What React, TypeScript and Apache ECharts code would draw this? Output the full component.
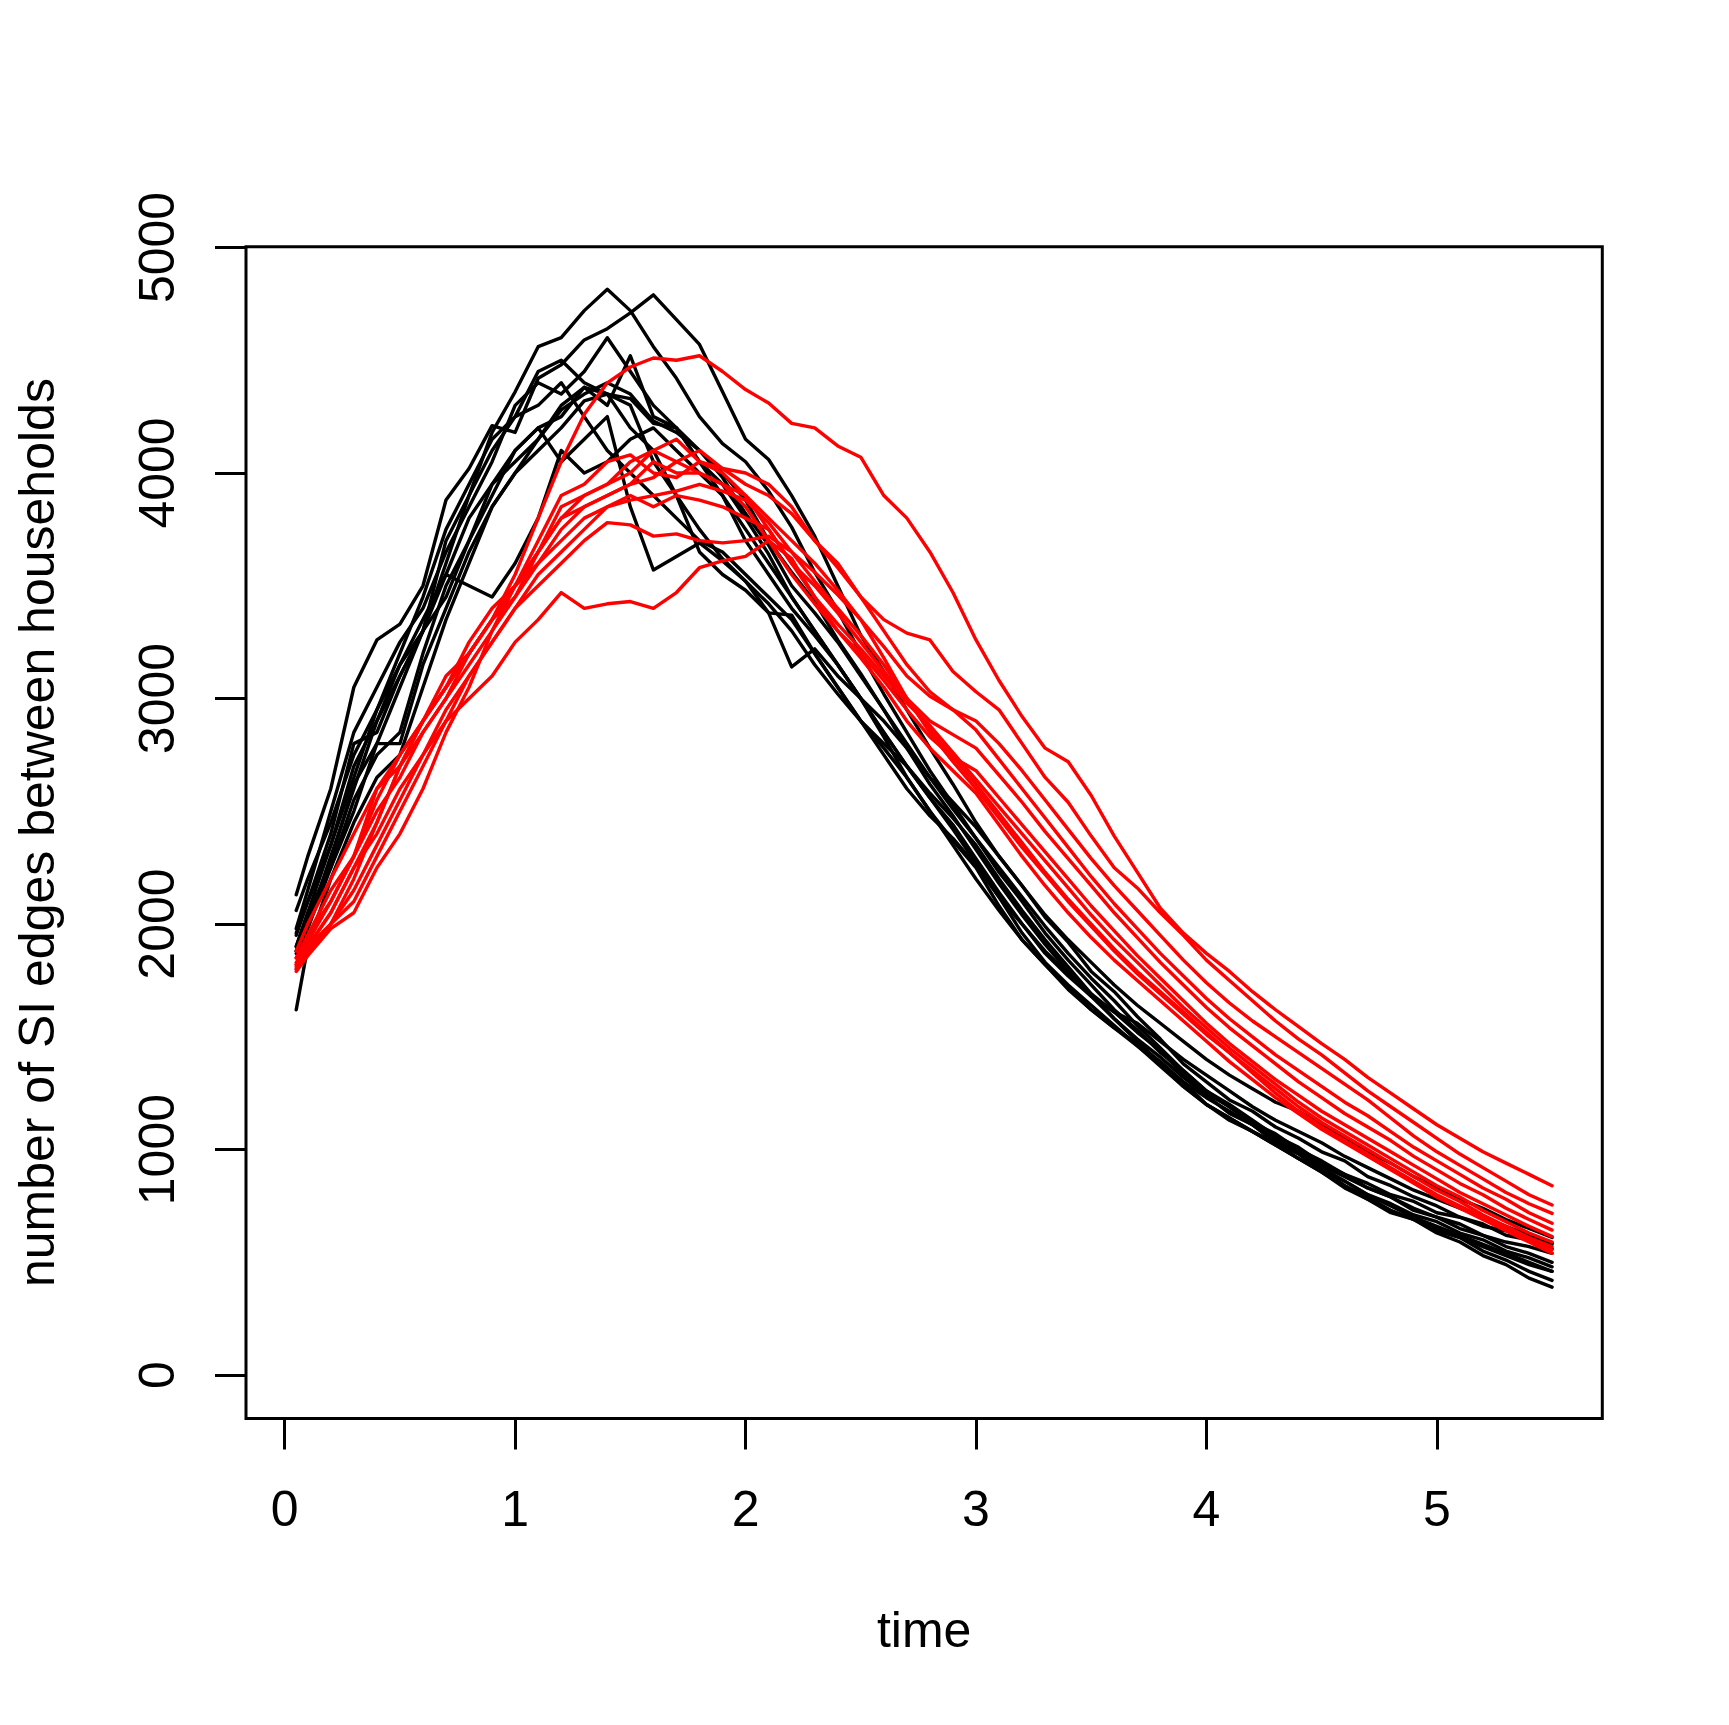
import React, { useEffect, useRef } from "react";
import * as echarts from "echarts";

// time grid (x values shared by every run)
const times = [
  0.05, 0.1, 0.2, 0.3, 0.4, 0.5, 0.6, 0.7, 0.8, 0.9,
  1.0, 1.1, 1.2, 1.3, 1.4, 1.5, 1.6, 1.7, 1.8, 1.9,
  2.0, 2.1, 2.2, 2.3, 2.4, 2.5, 2.6, 2.7, 2.8, 2.9,
  3.0, 3.1, 3.2, 3.3, 3.4, 3.5, 3.6, 3.7, 3.8, 3.9,
  4.0, 4.1, 4.2, 4.3, 4.4, 4.5, 4.6, 4.7, 4.8, 4.9,
  5.0, 5.1, 5.2, 5.3, 5.4, 5.5,
];

// black runs
const black1 = [2130, 2300, 2600, 3050, 3260, 3330, 3500, 3880, 4020, 4210, 4180, 4420, 4480, 4590, 4640, 4710, 4790, 4680, 4570, 4360, 4150, 4060, 3900, 3720, 3500, 3280, 3120, 2950, 2780, 2620, 2450, 2300, 2170, 2030, 1920, 1790, 1700, 1590, 1490, 1380, 1300, 1220, 1170, 1100, 1050, 990, 950, 880, 840, 790, 750, 700, 670, 620, 600, 560];
const black2 = [1960, 2100, 2350, 2700, 2900, 3100, 3300, 3700, 3900, 4180, 4360, 4560, 4600, 4720, 4815, 4720, 4560, 4420, 4250, 4130, 4050, 3920, 3760, 3560, 3390, 3200, 3020, 2850, 2680, 2530, 2380, 2230, 2100, 1960, 1840, 1730, 1620, 1530, 1430, 1350, 1260, 1200, 1130, 1060, 1010, 940, 890, 830, 790, 730, 700, 650, 620, 570, 540, 500];
const black3 = [1900, 2050, 2250, 2550, 2750, 2850, 3200, 3500, 3700, 3950, 4100, 4200, 4050, 4150, 4250, 3850, 3570, 3630, 3690, 3610, 3520, 3420, 3300, 3150, 3020, 2900, 2800, 2700, 2580, 2470, 2350, 2200, 2060, 1930, 1810, 1690, 1610, 1520, 1440, 1330, 1250, 1190, 1120, 1070, 1000, 950, 890, 850, 800, 770, 720, 700, 660, 640, 600, 580];
const black4 = [1880, 2000, 2300, 2600, 2900, 3150, 3350, 3550, 3800, 3950, 4050, 4150, 4300, 4380, 4300, 4520, 4250, 4200, 4050, 3950, 3800, 3640, 3450, 3300, 3150, 3000, 2850, 2700, 2560, 2440, 2290, 2140, 2000, 1870, 1770, 1680, 1580, 1490, 1410, 1320, 1240, 1160, 1110, 1030, 980, 910, 860, 800, 760, 710, 680, 630, 600, 550, 520, 480];
const black5 = [1870, 1980, 2250, 2500, 2800, 3050, 3300, 3450, 3700, 3900, 4100, 4200, 4250, 4380, 4350, 4300, 4050, 3900, 3750, 3620, 3520, 3380, 3140, 3220, 3100, 3000, 2900, 2780, 2650, 2540, 2430, 2300, 2170, 2040, 1930, 1830, 1730, 1640, 1560, 1480, 1400, 1330, 1270, 1210, 1170, 1110, 1050, 990, 940, 880, 830, 780, 740, 690, 650, 610];
const black6 = [1620, 1900, 2200, 2450, 2650, 2750, 3050, 3350, 3600, 3850, 4000, 4100, 4200, 4320, 4350, 4330, 4220, 4200, 4100, 4000, 3880, 3700, 3560, 3430, 3260, 3110, 2950, 2800, 2650, 2510, 2380, 2250, 2120, 1990, 1870, 1760, 1660, 1550, 1450, 1350, 1260, 1190, 1120, 1050, 990, 920, 860, 800, 750, 700, 660, 620, 580, 540, 500, 460];
const black7 = [1950, 2100, 2400, 2800, 2850, 3100, 3300, 3550, 3500, 3450, 3600, 3800, 4100, 4000, 4050, 4150, 4200, 4100, 4000, 3900, 3750, 3600, 3450, 3300, 3150, 3000, 2850, 2700, 2560, 2420, 2270, 2120, 1960, 1830, 1730, 1640, 1550, 1460, 1370, 1280, 1200, 1140, 1080, 1020, 960, 900, 830, 780, 720, 690, 640, 610, 550, 510, 460, 420];
const black8 = [2060, 2200, 2450, 2750, 2950, 3200, 3450, 3750, 3950, 4150, 4250, 4450, 4500, 4400, 4350, 4200, 4100, 3900, 3650, 3550, 3480, 3380, 3370, 3200, 3050, 2900, 2780, 2650, 2500, 2370, 2250, 2080, 1930, 1820, 1720, 1620, 1540, 1470, 1390, 1300, 1200, 1140, 1080, 1030, 960, 910, 840, 790, 730, 690, 630, 590, 530, 490, 430, 390];
const black9 = [1980, 2150, 2500, 2850, 3050, 3250, 3400, 3650, 3850, 4050, 4300, 4400, 4350, 4450, 4600, 4450, 4300, 4200, 4050, 3900, 3700, 3550, 3400, 3280, 3150, 3000, 2830, 2650, 2500, 2350, 2200, 2060, 1930, 1820, 1710, 1620, 1540, 1460, 1380, 1300, 1230, 1170, 1110, 1040, 990, 930, 880, 830, 790, 740, 700, 670, 620, 590, 570, 540];
const black10 = [1900, 2050, 2350, 2650, 2950, 3150, 3300, 3600, 3900, 4100, 4250, 4300, 4400, 4250, 4100, 4000, 3900, 3800, 3700, 3650, 3550, 3450, 3350, 3200, 3050, 2900, 2750, 2600, 2480, 2380, 2260, 2120, 2000, 1880, 1780, 1680, 1610, 1560, 1480, 1400, 1330, 1260, 1190, 1130, 1080, 1030, 970, 920, 870, 820, 780, 740, 700, 660, 620, 585];
const black11 = [1880, 2020, 2280, 2620, 2800, 2800, 3150, 3400, 3650, 3850, 4000, 4150, 4280, 4350, 4400, 4350, 4230, 4180, 4100, 3980, 3820, 3680, 3500, 3380, 3250, 3100, 2950, 2780, 2620, 2480, 2330, 2180, 2040, 1910, 1790, 1690, 1580, 1480, 1380, 1280, 1200, 1130, 1080, 1020, 960, 900, 840, 780, 730, 690, 650, 610, 570, 530, 490, 460];

// red runs
const red1 = [1820, 1950, 2150, 2300, 2600, 2700, 2900, 3050, 3200, 3350, 3550, 3800, 4050, 4260, 4400, 4470, 4510, 4500, 4520, 4450, 4370, 4310, 4220, 4200, 4120, 4070, 3900, 3800, 3650, 3470, 3260, 3080, 2920, 2780, 2720, 2570, 2390, 2230, 2070, 1960, 1870, 1790, 1700, 1620, 1545, 1470, 1400, 1320, 1250, 1180, 1110, 1050, 990, 940, 890, 840];
const red2 = [1830, 1900, 2050, 2250, 2400, 2600, 2750, 2900, 3000, 3100, 3250, 3350, 3470, 3400, 3420, 3430, 3400, 3470, 3580, 3610, 3630, 3700, 3620, 3450, 3300, 3200, 3080, 2950, 2830, 2740, 2680, 2560, 2440, 2320, 2200, 2080, 1970, 1860, 1760, 1660, 1560, 1470, 1390, 1310, 1240, 1170, 1110, 1050, 990, 930, 870, 810, 760, 710, 660, 614];
const red3 = [1800, 1880, 2000, 2150, 2350, 2550, 2750, 2950, 3100, 3250, 3400, 3500, 3600, 3700, 3780, 3770, 3720, 3730, 3700, 3690, 3700, 3720, 3650, 3560, 3460, 3350, 3230, 3100, 3010, 2950, 2900, 2800, 2680, 2550, 2420, 2290, 2170, 2060, 1950, 1840, 1740, 1650, 1570, 1500, 1430, 1360, 1290, 1220, 1140, 1060, 990, 930, 870, 810, 760, 717];
const red4 = [1850, 1950, 2100, 2300, 2550, 2750, 2900, 3050, 3250, 3400, 3500, 3650, 3800, 3900, 3950, 4000, 4100, 4150, 4050, 4020, 3950, 3900, 3820, 3700, 3600, 3450, 3300, 3150, 3030, 2950, 2860, 2730, 2600, 2470, 2340, 2210, 2090, 1980, 1870, 1770, 1670, 1580, 1500, 1420, 1350, 1280, 1210, 1150, 1080, 1010, 950, 890, 830, 780, 720, 673];
const red5 = [1800, 1900, 2000, 2200, 2450, 2700, 2850, 3000, 3200, 3350, 3450, 3650, 3850, 3900, 3950, 4050, 4100, 4050, 4000, 3950, 3900, 3800, 3700, 3600, 3480, 3350, 3180, 3000, 2850, 2720, 2600, 2470, 2340, 2220, 2100, 1990, 1880, 1780, 1690, 1600, 1510, 1430, 1350, 1270, 1190, 1120, 1060, 1000, 940, 880, 820, 770, 710, 660, 610, 569];
const red6 = [1820, 1880, 2000, 2100, 2300, 2500, 2700, 2900, 3100, 3250, 3400, 3550, 3650, 3750, 3850, 3880, 3900, 3920, 3950, 3920, 3880, 3780, 3650, 3520, 3400, 3280, 3150, 3000, 2860, 2740, 2620, 2490, 2360, 2230, 2110, 2000, 1890, 1790, 1700, 1610, 1520, 1430, 1340, 1250, 1170, 1100, 1040, 980, 920, 860, 800, 750, 700, 650, 600, 555];
const red7 = [1880, 2000, 2200, 2400, 2600, 2750, 2900, 3050, 3200, 3350, 3500, 3700, 3900, 3950, 4050, 4080, 4000, 3980, 4050, 4000, 3900, 3750, 3600, 3450, 3330, 3220, 3100, 2980, 2880, 2760, 2640, 2520, 2400, 2280, 2160, 2040, 1930, 1830, 1730, 1630, 1540, 1450, 1370, 1290, 1210, 1140, 1080, 1020, 960, 900, 840, 790, 730, 680, 630, 590];
const red8 = [1790, 1860, 1980, 2050, 2250, 2400, 2600, 2850, 3050, 3300, 3500, 3600, 3750, 3850, 3900, 3950, 4050, 4000, 4000, 3950, 3850, 3700, 3550, 3420, 3300, 3180, 3050, 2900, 2780, 2680, 2580, 2440, 2300, 2170, 2050, 1940, 1840, 1750, 1660, 1570, 1480, 1390, 1310, 1230, 1160, 1090, 1030, 970, 910, 850, 790, 740, 690, 640, 590, 540];
const red9 = [1850, 1920, 2100, 2300, 2500, 2650, 2850, 3000, 3150, 3300, 3450, 3600, 3700, 3800, 3850, 3900, 3850, 3900, 3880, 3850, 3800, 3750, 3600, 3500, 3380, 3250, 3120, 3000, 2900, 2840, 2780, 2660, 2540, 2410, 2290, 2170, 2050, 1940, 1830, 1730, 1630, 1540, 1460, 1380, 1300, 1230, 1160, 1100, 1040, 970, 910, 850, 800, 740, 690, 643];
const red10 = [1810, 1900, 2050, 2250, 2450, 2700, 2900, 3100, 3200, 3350, 3500, 3650, 3800, 3850, 3900, 3950, 3980, 4050, 4100, 4020, 4000, 3950, 3850, 3700, 3580, 3450, 3350, 3290, 3260, 3120, 3030, 2950, 2800, 2650, 2540, 2390, 2250, 2160, 2050, 1950, 1840, 1750, 1660, 1570, 1490, 1420, 1340, 1260, 1190, 1120, 1050, 980, 920, 860, 800, 754];

const blackRuns = [black1, black2, black3, black4, black5, black6, black7, black8, black9, black10, black11];
const redRuns = [red1, red2, red3, red4, red5, red6, red7, red8, red9, red10];

const xTicks = [0, 1, 2, 3, 4, 5];
const yTicks = [0, 1000, 2000, 3000, 4000, 5000];
const xTitle = "time";
const yTitle = "number of SI edges between households";

const FONT = '"Liberation Sans", Arial, Helvetica, sans-serif';

export default function App() {
  const ref = useRef<HTMLDivElement>(null);

  useEffect(() => {
    if (!ref.current) return;
    const chart = echarts.init(ref.current, undefined, { renderer: "svg" });

    // R-style axis limits: data range extended by 4% on each side
    const xMinData = Math.min(...times);
    const xMaxData = Math.max(...times);
    const xPad = (xMaxData - xMinData) * 0.04;
    const yMaxData = 4811;
    const yPad = yMaxData * 0.04;

    const makeSeries = (runs: number[][], color: string) =>
      runs.map((vals) => ({
        type: "line",
        data: vals.map((v, i) => [times[i], v]),
        showSymbol: false,
        symbol: "none",
        silent: true,
        lineStyle: { color, width: 3.4, join: "round", cap: "round" },
      }));

    const labelStyle = {
      fontSize: 50,
      color: "#000",
      fontFamily: FONT,
    };

    const tickStyle = { color: "#000", width: 3 };

    chart.setOption({
      animation: false,
      backgroundColor: "#ffffff",
      grid: {
        left: 246,
        top: 246.7,
        right: 126.7,
        bottom: 306.5,
        show: true,
        borderColor: "#000",
        borderWidth: 3,
        backgroundColor: "transparent",
      },
      xAxis: {
        type: "value",
        min: xMinData - xPad,
        max: xMaxData + xPad,
        axisLine: { show: false, onZero: false },
        splitLine: { show: false },
        axisTick: {
          show: true,
          inside: false,
          length: 31,
          lineStyle: tickStyle,
          customValues: xTicks,
        },
        axisLabel: {
          ...labelStyle,
          customValues: xTicks,
          margin: 65,
          formatter: (v: number) => String(v),
        },
        name: xTitle,
        nameLocation: "middle",
        nameGap: 186,
        nameTextStyle: labelStyle,
      },
      yAxis: {
        type: "value",
        min: -yPad,
        max: yMaxData + yPad,
        axisLine: { show: false, onZero: false },
        splitLine: { show: false },
        axisTick: {
          show: true,
          inside: false,
          length: 31,
          lineStyle: tickStyle,
          customValues: yTicks,
        },
        axisLabel: {
          ...labelStyle,
          customValues: yTicks,
          rotate: 90,
          margin: 64,
          formatter: (v: number) => String(v),
        },
        name: yTitle,
        nameLocation: "middle",
        nameGap: 184,
        nameTextStyle: labelStyle,
      },
      series: [...makeSeries(blackRuns, "#000000"), ...makeSeries(redRuns, "#ff0000")],
    });

    return () => chart.dispose();
  }, []);

  return (
    <div
      ref={ref}
      style={{ position: "fixed", left: 0, top: 0, width: 1729, height: 1725, background: "#fff" }}
    />
  );
}
